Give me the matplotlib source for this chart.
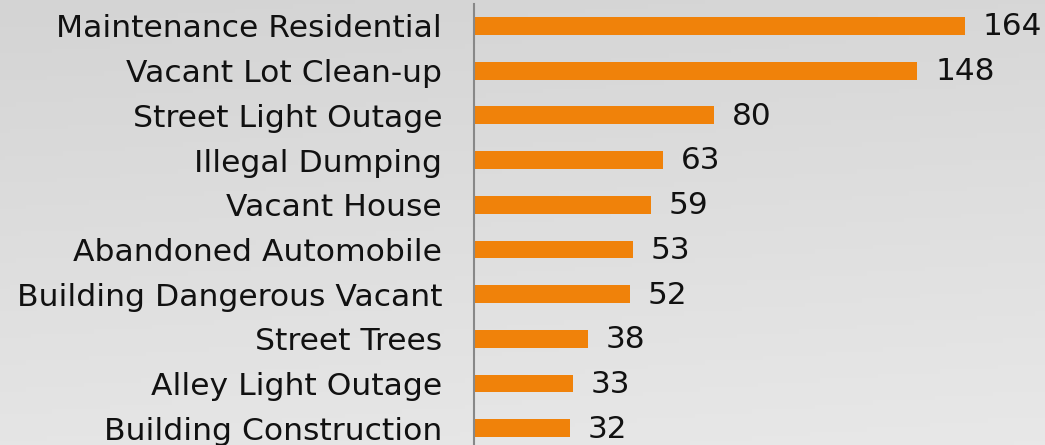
import numpy as np
import matplotlib
matplotlib.use('Agg')
import matplotlib.pyplot as plt

categories = ['Maintenance Residential', 'Vacant Lot Clean-up', 'Street Light Outage',
              'Illegal Dumping', 'Vacant House', 'Abandoned Automobile',
              'Building Dangerous Vacant', 'Street Trees', 'Alley Light Outage',
              'Building Construction']
counts = [164, 148, 80, 63, 59, 53, 52, 38, 33, 32]

plt.rcParams['font.family'] = ['DejaVu Sans']

fig = plt.figure(figsize=(10.45, 4.45), dpi=100)

# gradient background, mostly top to bottom
bg = fig.add_axes([0, 0, 1, 1])
xx, yy = np.meshgrid(np.linspace(0, 1, 200), np.linspace(0, 1, 100))
grad = 0.85 * yy + 0.15 * xx
bg.imshow(grad, cmap=matplotlib.colors.LinearSegmentedColormap.from_list('g', ['#d4d4d4', '#e8e8e8']),
          aspect='auto', extent=[0, 1, 0, 1], origin='upper')
bg.axis('off')

ax = fig.add_axes([474 / 1045, -0.0126, 571 / 1045, 1.0045])
ax.patch.set_alpha(0)
y = np.arange(len(categories))
ax.barh(y, counts, height=0.4, color='#f0820a')
ax.set_ylim(len(categories) - 0.5, -0.5)
ax.set_xlim(0, 190.7)

for yi, v in zip(y, counts):
    ax.text(v + 6, yi + 0.02, str(v), va='center', ha='left', fontsize=22.4, color='#111111')

ax.set_yticks(y)
ax.set_yticklabels(categories, fontsize=22.6, color='#111111')
ax.tick_params(axis='y', length=0, pad=23)
ax.set_xticks([])
for s in ['top', 'right', 'bottom']:
    ax.spines[s].set_visible(False)
ax.spines['left'].set_color('#888888')
ax.spines['left'].set_linewidth(1.5)

fig.savefig('out.png', dpi=100)
